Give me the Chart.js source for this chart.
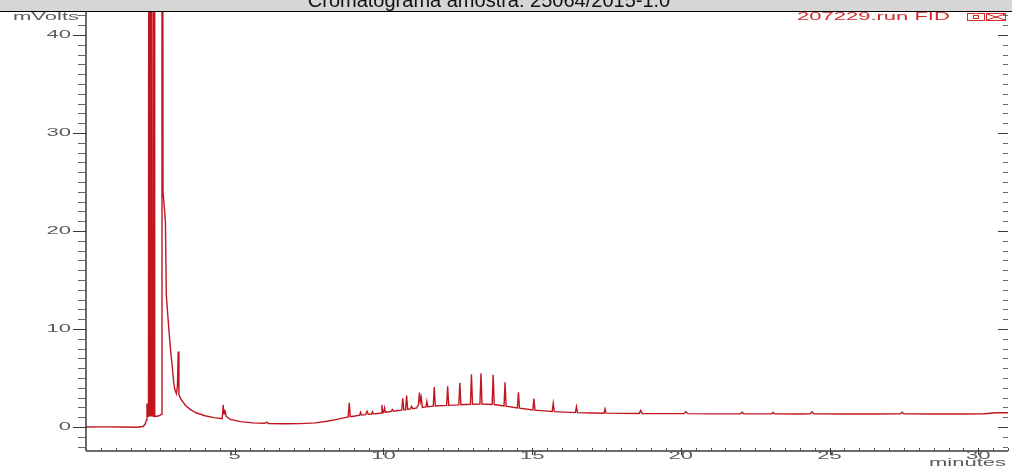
<!DOCTYPE html>
<html>
<head>
<meta charset="utf-8">
<title>Cromatograma amostra: 25064/2015-1.0</title>
<script src="https://cdn.jsdelivr.net/npm/chart.js@4.4.0/dist/chart.umd.min.js"></script>
<style>
  html, body { margin: 0; padding: 0; background: #fff; }
  canvas { display: block; }
</style>
</head>
<body>
<canvas id="chromatogram" width="1012" height="467"></canvas>
<script>
// retention time (minutes) / FID signal (mVolts), read point by point
const timeMin = [
  0.00, 0.60, 1.20, 1.70, 1.92, 1.99, 2.03, 2.05, 2.07, 2.10,
  2.12, 2.145, 2.18, 2.20, 2.225, 2.265, 2.29, 2.31, 2.40, 2.50,
  2.535, 2.555, 2.59, 2.67, 2.70, 2.755, 2.78, 2.82, 2.86, 2.90,
  2.94, 2.98, 3.04, 3.075, 3.10, 3.125, 3.20, 3.35, 3.50, 3.70,
  4.00, 4.30, 4.58, 4.61, 4.64, 4.67, 4.71, 4.85, 5.20, 5.60,
  6.00, 6.07, 6.15, 6.70, 7.20, 7.70, 8.10, 8.40, 8.70, 8.815,
  8.85, 8.885, 9.05, 9.20, 9.23, 9.26, 9.40, 9.45, 9.49, 9.60,
  9.63, 9.66, 9.80, 9.92, 9.95, 9.98, 10.01, 10.04, 10.07, 10.25,
  10.30, 10.34, 10.50, 10.615, 10.65, 10.685, 10.745, 10.78, 10.815, 10.90,
  10.95, 10.98, 11.12, 11.18, 11.21, 11.24, 11.27, 11.31, 11.43, 11.46,
  11.49, 11.675, 11.71, 11.745, 12.125, 12.16, 12.195, 12.535, 12.57, 12.605,
  12.925, 12.96, 12.995, 13.245, 13.28, 13.315, 13.655, 13.69, 13.725, 14.055,
  14.09, 14.125, 14.505, 14.54, 14.575, 15.025, 15.06, 15.095, 15.50, 15.675,
  15.71, 15.745, 16.455, 16.49, 16.525, 17.00, 17.415, 17.45, 17.485, 18.00,
  18.60, 18.65, 18.70, 19.40, 20.10, 20.17, 20.24, 21.10, 22.00, 22.06,
  22.12, 23.05, 23.10, 23.15, 24.00, 24.35, 24.41, 24.47, 25.60, 26.50,
  27.38, 27.44, 27.50, 28.50, 29.50, 30.20, 30.60, 31.00
];
const signalMv = [
  0.00, 0.01, 0.00, -0.02, 0.05, 0.30, 0.70, 2.40, 1.10, 1.10,
  130, 1.15, 1.15, 125, 1.15, 1.10, 118, 1.10, 1.10, 1.20,
  1.30, 140, 24.0, 21.0, 13.5, 11.2, 10.2, 8.7, 7.3, 6.2,
  4.8, 3.9, 3.4, 4.2, 7.7, 3.3, 2.8, 2.2, 1.8, 1.45,
  1.15, 0.95, 0.85, 2.25, 1.35, 1.75, 1.10, 0.78, 0.55, 0.42,
  0.38, 0.48, 0.36, 0.33, 0.34, 0.42, 0.58, 0.75, 0.95, 1.02,
  2.48, 1.05, 1.12, 1.20, 1.50, 1.22, 1.26, 1.60, 1.30, 1.32,
  1.55, 1.34, 1.38, 1.42, 2.25, 1.45, 1.50, 1.95, 1.50, 1.58,
  1.78, 1.60, 1.68, 1.72, 2.93, 1.75, 1.76, 3.20, 1.80, 1.85,
  2.10, 1.86, 1.95, 2.30, 3.52, 2.60, 3.05, 2.00, 2.05, 2.60,
  2.07, 2.12, 4.08, 2.14, 2.20, 4.15, 2.21, 2.26, 4.50, 2.27,
  2.32, 5.38, 2.33, 2.35, 5.48, 2.35, 2.30, 5.34, 2.29, 2.14,
  4.56, 2.12, 1.94, 3.54, 1.92, 1.74, 2.89, 1.72, 1.62, 1.58,
  2.42, 1.57, 1.47, 2.07, 1.46, 1.43, 1.41, 1.84, 1.41, 1.39,
  1.38, 1.70, 1.38, 1.36, 1.36, 1.55, 1.36, 1.34, 1.34, 1.50,
  1.34, 1.34, 1.48, 1.34, 1.33, 1.35, 1.55, 1.35, 1.33, 1.33,
  1.34, 1.50, 1.34, 1.33, 1.33, 1.35, 1.45, 1.45
];

const xLabels = [5, 10, 15, 20, 25, 30];
const yLabels = [0, 10, 20, 30, 40];
const runTitle = 'Cromatograma amostra: 25064/2015-1.0';
const traceName = '207229.run FID';
const xUnit = 'minutes';
const yUnit = 'mVolts';

const TRACE = '#c01620';
const AXIS = '#3a3a3a';
const LABEL = '#5a5a5a';

const points = timeMin.map((t, i) => ({ x: t, y: signalMv[i] }));

// the acquisition software draws its axis text very wide
function wideText(ctx, text, x, y, align) {
    ctx.save();
    ctx.translate(x, y);
    ctx.scale(2.2, 1);
    ctx.textAlign = align;
    ctx.fillText(text, 0, 0);
    ctx.restore();
}

function line(ctx, x1, y1, x2, y2) {
    ctx.beginPath();
    ctx.moveTo(x1, y1);
    ctx.lineTo(x2, y2);
    ctx.stroke();
}

// header bar, axes with minor ticks, trace legend
const frame = {
    id: 'frame',
    afterDraw(chart) {
        const ctx = chart.ctx;
        const area = chart.chartArea;
        const xs = chart.scales.x;
        const ys = chart.scales.y;

        ctx.save();
        ctx.fillStyle = '#d6d6d6';
        ctx.fillRect(0, 0, chart.width, 11);
        ctx.strokeStyle = '#000';
        ctx.lineWidth = 1;
        line(ctx, 0, 11.5, chart.width, 11.5);

        ctx.fillStyle = '#111';
        ctx.font = '20px "Liberation Sans", Arial, sans-serif';
        ctx.textAlign = 'center';
        ctx.textBaseline = 'alphabetic';
        ctx.fillText(runTitle, 489, 6.5);

        // axis lines
        ctx.strokeStyle = AXIS;
        ctx.lineWidth = 1.5;
        line(ctx, area.left, area.top, area.left, area.bottom);
        line(ctx, area.left, area.bottom, area.right, area.bottom);

        // 1 mV ticks, outside on the left, inside on the right
        ctx.lineWidth = 1;
        for (let v = -2; v <= 42; v++) {
            const py = Math.round(ys.getPixelForValue(v)) + 0.5;
            const major = v % 10 === 0;
            ctx.strokeStyle = major ? AXIS : '#666';
            line(ctx, area.left - (major ? 13 : 8), py, area.left, py);
            line(ctx, area.right - (major ? 10 : 5), py, area.right, py);
        }

        // bottom axis, half-minute ticks
        for (let t = 0; t <= 31; t += 0.5) {
            const px = Math.round(xs.getPixelForValue(t)) + 0.5;
            if (t % 5 === 0 && t > 0) {
                ctx.strokeStyle = AXIS;
                line(ctx, px, area.bottom - 3, px, area.bottom + 4);
            } else {
                ctx.strokeStyle = '#555';
                line(ctx, px, area.bottom - 3, px, area.bottom);
            }
        }

        ctx.font = '10px "Liberation Sans", Arial, sans-serif';
        ctx.fillStyle = LABEL;
        ctx.textBaseline = 'middle';
        yLabels.forEach(v => {
            wideText(ctx, String(v), area.left - 15, ys.getPixelForValue(v) + 0.5, 'right');
        });
        wideText(ctx, yUnit, area.left - 7, 17.5, 'right');

        ctx.textBaseline = 'alphabetic';
        xLabels.forEach(t => {
            wideText(ctx, String(t), xs.getPixelForValue(t), 459, 'center');
        });
        wideText(ctx, xUnit, 1006, 466, 'right');

        // trace name and window buttons, top right
        ctx.fillStyle = '#d42a2a';
        ctx.textBaseline = 'middle';
        wideText(ctx, traceName, 797, 17.5, 'left');
        ctx.strokeStyle = '#d42a2a';
        ctx.lineWidth = 1;
        ctx.strokeRect(967.5, 13.5, 17, 7);
        ctx.strokeRect(973.5, 15.5, 5, 3);
        ctx.strokeRect(986.5, 13.5, 19, 7);
        line(ctx, 987, 14, 1005, 20);
        line(ctx, 987, 20, 1005, 14);
        ctx.restore();
    }
};

new Chart(document.getElementById('chromatogram'), {
    type: 'scatter',
    data: {
        datasets: [{
            label: traceName,
            data: points,
            showLine: true,
            borderColor: TRACE,
            backgroundColor: TRACE,
            borderWidth: 1.4,
            pointRadius: 0,
            tension: 0
        }]
    },
    options: {
        responsive: false,
        animation: false,
        devicePixelRatio: 1,
        layout: {
            padding: { left: 86, right: 4, top: 12, bottom: 16 }
        },
        plugins: {
            legend: { display: false },
            title: { display: false },
            tooltip: { enabled: false }
        },
        scales: {
            x: { type: 'linear', min: 0, max: 31.0, display: false },
            y: { type: 'linear', min: -2.45, max: 42.35, display: false }
        }
    },
    plugins: [frame]
});
</script>
</body>
</html>
